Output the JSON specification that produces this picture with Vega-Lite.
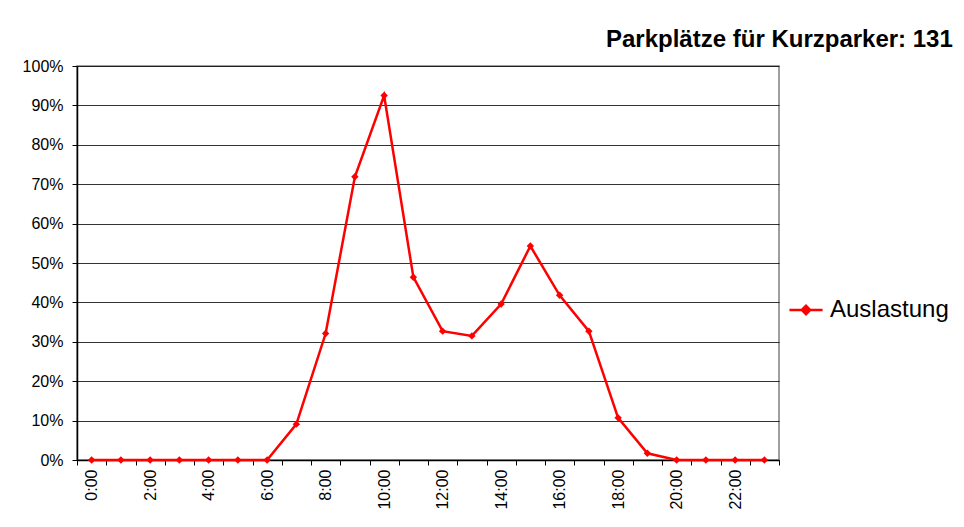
{
  "$schema": "https://vega.github.io/schema/vega-lite/v6.json",
  "width": 702,
  "height": 394,
  "autosize": {"type": "none"},
  "padding": {"left": 77, "top": 66, "right": 185, "bottom": 67},
  "background": "white",
  "title": {
    "text": "Parkplätze für Kurzparker: 131",
    "anchor": "start",
    "frame": "group",
    "dx": 529,
    "offset": 6,
    "font": "Liberation Sans",
    "fontSize": 24,
    "fontWeight": "bold",
    "color": "#000000"
  },
  "data": {
    "values": [
      {"h": 0, "v": 0.0, "series": "Auslastung"},
      {"h": 1, "v": 0.0, "series": "Auslastung"},
      {"h": 2, "v": 0.0, "series": "Auslastung"},
      {"h": 3, "v": 0.0, "series": "Auslastung"},
      {"h": 4, "v": 0.0, "series": "Auslastung"},
      {"h": 5, "v": 0.0, "series": "Auslastung"},
      {"h": 6, "v": 0.0, "series": "Auslastung"},
      {"h": 7, "v": 0.091, "series": "Auslastung"},
      {"h": 8, "v": 0.321, "series": "Auslastung"},
      {"h": 9, "v": 0.719, "series": "Auslastung"},
      {"h": 10, "v": 0.925, "series": "Auslastung"},
      {"h": 11, "v": 0.464, "series": "Auslastung"},
      {"h": 12, "v": 0.327, "series": "Auslastung"},
      {"h": 13, "v": 0.315, "series": "Auslastung"},
      {"h": 14, "v": 0.396, "series": "Auslastung"},
      {"h": 15, "v": 0.543, "series": "Auslastung"},
      {"h": 16, "v": 0.418, "series": "Auslastung"},
      {"h": 17, "v": 0.327, "series": "Auslastung"},
      {"h": 18, "v": 0.107, "series": "Auslastung"},
      {"h": 19, "v": 0.017, "series": "Auslastung"},
      {"h": 20, "v": 0.0, "series": "Auslastung"},
      {"h": 21, "v": 0.0, "series": "Auslastung"},
      {"h": 22, "v": 0.0, "series": "Auslastung"},
      {"h": 23, "v": 0.0, "series": "Auslastung"}
    ]
  },
  "mark": {
    "type": "line",
    "strokeWidth": 2.5,
    "point": {"shape": "diamond", "size": 55, "filled": true}
  },
  "encoding": {
    "x": {
      "field": "h",
      "type": "ordinal",
      "bandPosition": 0.5,
      "scale": {"type": "band", "paddingInner": 0, "paddingOuter": 0},
      "axis": {
        "title": null,
        "labelAngle": 270,
        "labelExpr": "datum.value % 2 === 0 ? datum.value + ':00' : ''",
        "tickBand": "extent",
        "grid": false,
        "domainColor": "#000000",
        "domainWidth": 1.5,
        "tickColor": "#000000",
        "tickSize": 5,
        "labelPadding": 4,
        "labelFont": "Liberation Sans",
        "labelFontSize": 16,
        "labelColor": "#000000"
      }
    },
    "y": {
      "field": "v",
      "type": "quantitative",
      "scale": {"domain": [0, 1], "nice": false},
      "axis": {
        "title": null,
        "values": [0, 0.1, 0.2, 0.3, 0.4, 0.5, 0.6, 0.7, 0.8, 0.9, 1.0],
        "format": ".0%",
        "grid": true,
        "gridColor": "#000000",
        "gridWidth": 1,
        "gridOpacity": 0.8,
        "domainColor": "#000000",
        "domainWidth": 1.5,
        "tickColor": "#000000",
        "tickSize": 5,
        "labelPadding": 9,
        "labelFont": "Liberation Sans",
        "labelFontSize": 16,
        "labelColor": "#000000"
      }
    },
    "color": {
      "field": "series",
      "type": "nominal",
      "scale": {"range": ["#ff0000"]},
      "legend": {
        "title": null,
        "orient": "none",
        "legendX": 711,
        "legendY": 226,
        "symbolType": "M-1,0H1M-0.25,0L0,-0.25L0.25,0L0,0.25Z",
        "symbolSize": 1100,
        "symbolStrokeWidth": 2.5,
        "symbolFillColor": "#ff0000",
        "labelFont": "Liberation Sans",
        "labelFontSize": 24,
        "labelColor": "#000000",
        "labelOffset": 6
      }
    }
  },
  "config": {
    "view": {"stroke": "#808080", "strokeWidth": 1.5}
  }
}
